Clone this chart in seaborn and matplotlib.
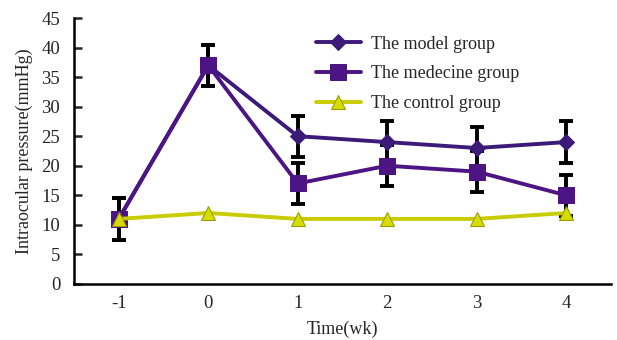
import matplotlib
matplotlib.use("Agg")
import matplotlib.pyplot as plt
import seaborn as sns
import pandas as pd
import numpy as np

# --- data ---
weeks = ["-1", "0", "1", "2", "3", "4"]
model = [11, 37, 25, 24, 23, 24]
medicine = [11, 37, 17, 20, 19, 15]
control = [11, 12, 11, 11, 11, 12]
model_err = [3.6, 3.5, 3.5, 3.5, 3.5, 3.5]
medicine_err = [3.6, 3.5, 3.5, 3.5, 3.5, 3.5]

sns.set_style("white")
plt.rcParams['font.family'] = ['Liberation Serif', 'DejaVu Serif']

fig = plt.figure(figsize=(6.17, 3.4), dpi=100)
ax = fig.add_axes([0.12, 0.165, 0.87, 0.782])

x = np.arange(len(weeks))
df = pd.DataFrame({
    'x': np.tile(x, 3),
    'value': model + medicine + control,
    'group': (["The model group"] * 6 + ["The medecine group"] * 6
              + ["The control group"] * 6),
})

# error bars first so the markers sit on top
ax.errorbar(x, model, yerr=model_err, fmt='none', ecolor='black',
            elinewidth=2.8, capsize=5, capthick=2.8, zorder=2)
ax.errorbar(x, medicine, yerr=medicine_err, fmt='none', ecolor='black',
            elinewidth=2.8, capsize=5, capthick=2.8, zorder=2)

palette = {"The model group": "#3b1a78",
           "The medecine group": "#4d1483",
           "The control group": "#c9cc00"}
markers = {"The model group": "D",
           "The medecine group": "s",
           "The control group": "^"}
sizes = {"The model group": 8.5, "The medecine group": 11, "The control group": 10}

for name in ["The model group", "The medecine group", "The control group"]:
    sub = df[df['group'] == name]
    edge = "#9a9a00" if name == "The control group" else palette[name]
    face = "#d6dc00" if name == "The control group" else palette[name]
    sns.lineplot(data=sub, x='x', y='value', ax=ax, color=palette[name],
                 linewidth=2.8, marker=markers[name], markersize=sizes[name],
                 markerfacecolor=face, markeredgecolor=edge, label=name,
                 zorder=3)

ax.set_xlim(-0.5, 5.5)
ax.set_ylim(0, 45)
ax.set_yticks(range(0, 46, 5))
ax.set_xticks(x)
ax.set_xticklabels(weeks)
ax.set_xticks(np.arange(-0.5, 6, 1), minor=True)
ax.tick_params(axis='x', which='major', length=0, pad=8, labelsize=13.5)
ax.tick_params(axis='x', which='minor', length=6, width=1.8, direction='in')
ax.tick_params(axis='y', length=6, width=1.8, direction='in', labelsize=13.5,
               pad=10, left=True)

for side in ['top', 'right']:
    ax.spines[side].set_visible(False)
for side in ['left', 'bottom']:
    ax.spines[side].set_linewidth(1.8)
    ax.spines[side].set_color('black')

ax.set_xlabel('Time(wk)', fontsize=13, labelpad=6)
ax.set_ylabel('Intraocular pressure(mmHg)', fontsize=13, labelpad=6)

leg = ax.legend(loc='upper left', bbox_to_anchor=(0.42, 0.995), frameon=False,
                fontsize=13, handlelength=2.5, labelspacing=0.7,
                handletextpad=0.55)

fig.savefig('out.png', dpi=100)
